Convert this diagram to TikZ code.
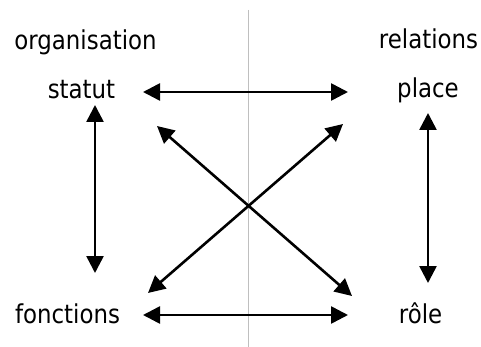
\documentclass[tikz,border=0pt]{standalone}
\usepackage{fontspec}
\setmainfont{DejaVu Sans}[FakeStretch=0.88]
\usetikzlibrary{arrows.meta}
\tikzset{
  label text/.style={inner sep=0pt, anchor=base, font=\fontsize{26}{30}\selectfont},
  link/.style={line width=2.6pt, {Triangle[length=17pt,width=17pt]}-{Triangle[length=17pt,width=17pt]}},
  divider/.style={draw=black!25, line width=1pt}
}
\begin{document}
\begin{tikzpicture}[x=1pt,y=-1pt]
  \useasboundingbox (0,0) rectangle (481,347);
  % central divider
  \coordinate (divtop) at (248,10);
  \coordinate (divbot) at (248,347);
  \draw[divider] (divtop) -- (divbot);

  % headings and terms
  \node[label text] (org) at (85.5,49.5) {organisation};
  \node[label text] (rel) at (428.5,48.5) {relations};
  \node[label text] (statut) at (81.5,99) {statut};
  \node[label text] (place) at (428,98) {place};
  \node[label text] (fonctions) at (67.5,323.5) {fonctions};
  \node[label text] (role) at (420.5,323.5) {rôle};

  % arrow end points
  \coordinate (sE) at (143,92);
  \coordinate (pW) at (348,92);
  \coordinate (fE) at (143,315);
  \coordinate (rW) at (348,315);
  \coordinate (sS) at (95,105);
  \coordinate (fN) at (95,273);
  \coordinate (pS) at (428,113);
  \coordinate (rN) at (428,283);
  \coordinate (sSE) at (157,126);
  \coordinate (rNW) at (352,296);
  \coordinate (pSW) at (343,124);
  \coordinate (fNE) at (148,293);

  % connectors
  \draw[link] (sE) -- (pW);
  \draw[link] (fE) -- (rW);
  \draw[link] (sS) -- (fN);
  \draw[link] (pS) -- (rN);
  \draw[link] (sSE) -- (rNW);
  \draw[link] (pSW) -- (fNE);
\end{tikzpicture}
\end{document}
